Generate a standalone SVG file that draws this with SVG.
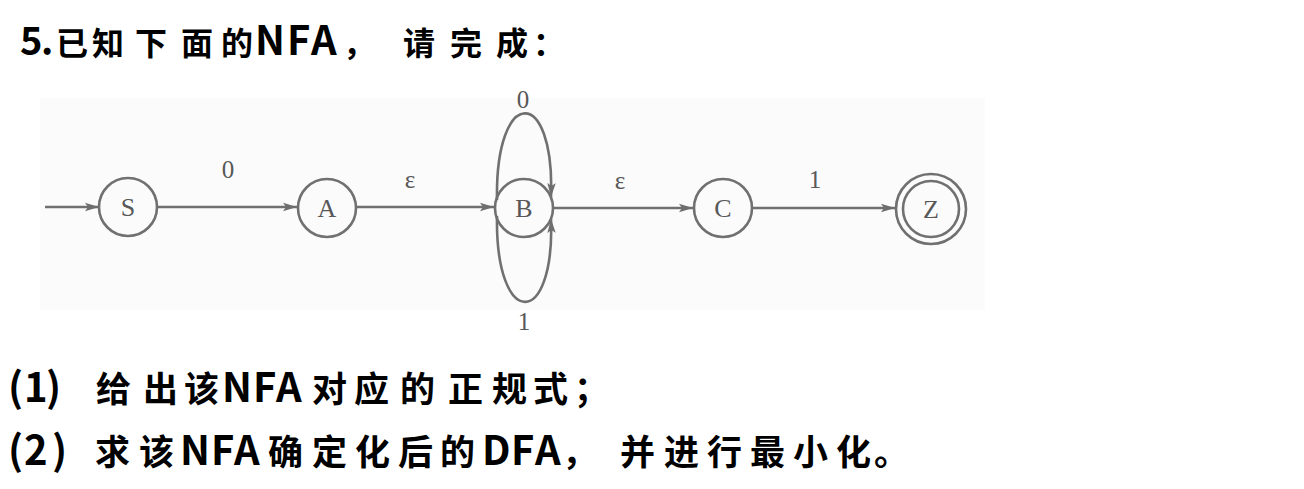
<svg xmlns="http://www.w3.org/2000/svg" width="1304" height="489" viewBox="0 0 1304 489">
  <defs>
    <marker id="arr" viewBox="0 0 14 10" refX="14" refY="5" markerWidth="14" markerHeight="10" markerUnits="userSpaceOnUse" orient="auto">
      <path d="M0,0.8 L14,5 L0,9.2 L3,5 Z" fill="#6e6e6e"/>
    </marker>
    <style>
      .st { fill: none; stroke: #707070; stroke-width: 2.6; }
      .ed { fill: none; stroke: #707070; stroke-width: 2.6; marker-end: url(#arr); }
      .nl { font-family: "Liberation Serif", "DejaVu Serif", serif; font-size: 26px; fill: #585858; text-anchor: middle; }
      .el { font-family: "Liberation Serif", "DejaVu Serif", serif; font-size: 25px; fill: #585858; text-anchor: middle; }
      .tx { font-family: "Noto Sans CJK SC", "Noto Sans", sans-serif; font-weight: 700; fill: #000; }
      .la { font-size: 40px; }
    </style>
  </defs>
  <rect width="1304" height="489" fill="#ffffff"/>
  <rect x="40" y="98" width="945" height="212" fill="#fbfbfb"/>

  <text class="tx" y="55" font-size="32"><tspan font-size="38" x="20 41">5.</tspan><tspan x="56 92 135 181 221">已知下面的</tspan><tspan font-size="40" x="255 287 311">NFA</tspan><tspan x="343">，</tspan><tspan x="403 450 496">请完成</tspan><tspan x="533">：</tspan></text>

  <g id="connectors">
    <line class="ed" x1="45" y1="207" x2="99" y2="207"/>
    <line class="ed" x1="158" y1="207" x2="297" y2="207"/>
    <line class="ed" x1="357" y1="207" x2="494" y2="207"/>
    <path class="ed" d="M497,200 C495,85 555,85 551,197"/>
    <path class="ed" d="M497,216 C495,330 555,330 551,219"/>
    <line class="ed" x1="553" y1="208" x2="693" y2="208"/>
    <line class="ed" x1="752" y1="208" x2="895" y2="208"/>
    <text class="el" x="228" y="178">0</text>
    <text class="el" x="410" y="188">ε</text>
    <text class="el" x="523" y="108">0</text>
    <text class="el" x="524" y="330">1</text>
    <text class="el" x="620" y="189">ε</text>
    <text class="el" x="815" y="188">1</text>
  </g>

  <g id="node-S">
    <circle class="st" cx="128" cy="207" r="29"/>
    <text class="nl" x="128" y="216">S</text>
  </g>
  <g id="node-A">
    <circle class="st" cx="327" cy="208" r="29"/>
    <text class="nl" x="327" y="217">A</text>
  </g>
  <g id="node-B">
    <circle class="st" cx="524" cy="208" r="29"/>
    <text class="nl" x="524" y="217">B</text>
  </g>
  <g id="node-C">
    <circle class="st" cx="723" cy="208" r="29"/>
    <text class="nl" x="723" y="217">C</text>
  </g>
  <g id="node-Z">
    <circle class="st" cx="931" cy="209" r="35"/>
    <circle class="st" cx="931" cy="209" r="28"/>
    <text class="nl" x="931" y="218">Z</text>
  </g>

  <text class="tx" y="402" font-size="35"><tspan class="la" x="8 24 46">(1)</tspan><tspan x="96 143 184">给出该</tspan><tspan class="la" x="222 253 276">NFA</tspan><tspan x="312 354 400 448 492 533">对应的正规式</tspan><tspan x="574">；</tspan></text>
  <text class="tx" y="465" font-size="35"><tspan class="la" x="8 24 52">(2)</tspan><tspan x="95 139">求该</tspan><tspan class="la" x="180 211 234">NFA</tspan><tspan x="268 312 355 398 440">确定化后的</tspan><tspan class="la" x="482 511 535">DFA</tspan><tspan x="562">，</tspan><tspan x="620 664 707 750 793 836">并进行最小化</tspan><tspan x="874">。</tspan></text>
</svg>
